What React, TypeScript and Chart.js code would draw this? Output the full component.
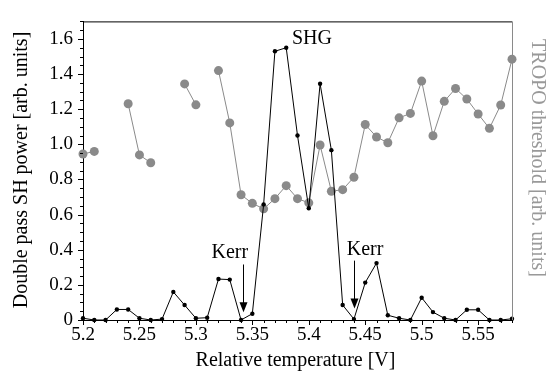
import { useEffect, useRef } from 'react';
import { Chart, registerables } from 'chart.js';

Chart.register(...registerables);

const temperatures = [
  5.20, 5.21, 5.22, 5.23, 5.24, 5.25, 5.26, 5.27, 5.28, 5.29,
  5.30, 5.31, 5.32, 5.33, 5.34, 5.35, 5.36, 5.37, 5.38, 5.39,
  5.40, 5.41, 5.42, 5.43, 5.44, 5.45, 5.46, 5.47, 5.48, 5.49,
  5.50, 5.51, 5.52, 5.53, 5.54, 5.55, 5.56, 5.57, 5.58,
];

const shgPower = [
  0.01, 0.0, 0.0, 0.06, 0.06, 0.01, 0.0, 0.005, 0.16, 0.085,
  0.01, 0.013, 0.233, 0.23, 0.0, 0.036, 0.658, 1.53, 1.55, 1.05,
  0.636, 1.345, 0.967, 0.085, 0.005, 0.213, 0.324, 0.027, 0.01, 0.0,
  0.127, 0.045, 0.01, 0.0, 0.058, 0.058, 0.0, 0.0, 0.007,
];

const tropoThreshold: (number | null)[] = [
  0.945, 0.96, null, null, 1.231, 0.94, 0.895, null, null, 1.344,
  1.225, null, 1.42, 1.122, 0.713, 0.664, 0.633, 0.691, 0.765, 0.691,
  0.667, 0.996, 0.733, 0.742, 0.813, 1.113, 1.042, 1.009, 1.151, 1.176,
  1.36, 1.049, 1.245, 1.318, 1.258, 1.173, 1.091, 1.224, 1.485,
];

const xTickLabels = ['5.2', '5.25', '5.3', '5.35', '5.4', '5.45', '5.5', '5.55'];
const yTickLabels = ['0', '0.2', '0.4', '0.6', '0.8', '1.0', '1.2', '1.4', '1.6'];

const xTitle = 'Relative temperature [V]';
const yTitle = 'Double pass SH power [arb. units]';
const y2Title = 'TROPO threshold [arb. units]';

const textLabels = [
  { text: 'SHG', x: 5.4028, y: 1.571 },
  { text: 'Kerr', x: 5.330, y: 0.354 },
  { text: 'Kerr', x: 5.4498, y: 0.37 },
];
const arrows = [
  { x: 5.3417, from: 0.316, to: 0.044 },
  { x: 5.440, from: 0.338, to: 0.065 },
];

const X_MIN = 5.2;
const X_MAX = 5.58;
const Y_MIN = 0;
const Y_MAX = 1.7;

const FONT = '"Liberation Serif", "DejaVu Serif", serif';
const GREY = '#8a8a8a';

const decorPlugin = {
  id: 'decor',
  afterDraw(chart: any) {
    const { ctx, chartArea: a, scales } = chart;
    const xs = scales.x;
    const ys = scales.y;
    ctx.save();
    ctx.lineWidth = 1;
    // top border
    ctx.strokeStyle = '#000';
    ctx.beginPath();
    ctx.moveTo(a.left, a.top + 0.5);
    ctx.lineTo(a.right, a.top + 0.5);
    ctx.stroke();
    // right border (grey)
    ctx.strokeStyle = GREY;
    ctx.beginPath();
    ctx.moveTo(Math.round(a.right) + 0.5, a.top);
    ctx.lineTo(Math.round(a.right) + 0.5, a.bottom);
    ctx.stroke();

    // x ticks
    ctx.strokeStyle = '#000';
    const majorX = xTickLabels.map(parseFloat);
    ctx.beginPath();
    temperatures.forEach((t) => {
      const px = Math.round(xs.getPixelForValue(t)) + 0.5;
      const isMajor = majorX.some((m) => Math.abs(m - t) < 1e-6);
      ctx.moveTo(px, a.bottom);
      ctx.lineTo(px, a.bottom + (isMajor ? 5 : 3));
    });
    // y ticks
    const majorY = yTickLabels.map(parseFloat);
    for (let i = 0; i <= 34; i++) {
      const v = i * 0.05;
      if (v > Y_MAX + 1e-6) break;
      const isMajor = majorY.some((m) => Math.abs(m - v) < 1e-6);
      const py = Math.round(ys.getPixelForValue(v)) + 0.5;
      ctx.moveTo(a.left, py);
      ctx.lineTo(a.left - (isMajor ? 5 : 3), py);
    }
    ctx.stroke();

    // titles
    ctx.fillStyle = '#000';
    ctx.font = `20px ${FONT}`;
    ctx.textAlign = 'center';
    ctx.textBaseline = 'alphabetic';
    ctx.fillText(xTitle, (a.left + a.right) / 2 - 2, 366);

    ctx.save();
    ctx.translate(27, 170);
    ctx.rotate(-Math.PI / 2);
    ctx.fillText(yTitle, 0, 0);
    ctx.restore();

    ctx.save();
    ctx.fillStyle = '#999999';
    ctx.translate(532, 158);
    ctx.rotate(Math.PI / 2);
    ctx.fillText(y2Title, 0, 0);
    ctx.restore();

    // annotations
    ctx.fillStyle = '#000';
    textLabels.forEach((l) => {
      ctx.fillText(l.text, xs.getPixelForValue(l.x), ys.getPixelForValue(l.y));
    });
    arrows.forEach((ar) => {
      const px = Math.round(xs.getPixelForValue(ar.x)) + 0.5;
      const y0 = ys.getPixelForValue(ar.from);
      const y1 = ys.getPixelForValue(ar.to);
      ctx.beginPath();
      ctx.moveTo(px, y0);
      ctx.lineTo(px, y1 - 8);
      ctx.stroke();
      ctx.beginPath();
      ctx.moveTo(px - 4, y1 - 10);
      ctx.lineTo(px + 4, y1 - 10);
      ctx.lineTo(px, y1);
      ctx.closePath();
      ctx.fill();
    });
    ctx.restore();
  },
};

export default function App() {
  const ref = useRef<HTMLCanvasElement | null>(null);

  useEffect(() => {
    document.body.style.margin = '0';
    const canvas = ref.current;
    if (!canvas) return;
    const chart = new Chart(canvas, {
      type: 'line',
      data: {
        datasets: [
          {
            label: 'SH power',
            data: temperatures.map((t, i) => ({ x: t, y: shgPower[i] })),
            borderColor: '#000',
            backgroundColor: '#000',
            borderWidth: 1,
            pointRadius: 2.2,
            pointBorderWidth: 0,
            pointBackgroundColor: '#000',
            tension: 0,
            clip: false as any,
            order: 0,
          },
          {
            label: 'TROPO threshold',
            data: temperatures.map((t, i) => ({ x: t, y: tropoThreshold[i] })),
            borderColor: GREY,
            backgroundColor: GREY,
            borderWidth: 1,
            pointRadius: 4.5,
            pointBorderWidth: 0,
            pointBackgroundColor: GREY,
            spanGaps: false,
            tension: 0,
            clip: false as any,
            order: 1,
          },
        ],
      },
      options: {
        animation: false,
        responsive: false,
        maintainAspectRatio: false,
        layout: { padding: { top: 8, right: 43, left: 0, bottom: 0 } },
        plugins: {
          legend: { display: false },
          tooltip: { enabled: false },
        },
        events: [],
        scales: {
          x: {
            type: 'linear',
            min: X_MIN,
            max: X_MAX,
            afterBuildTicks: (s: any) => {
              s.ticks = xTickLabels.map((l) => ({ value: parseFloat(l) }));
            },
            afterFit: (s: any) => {
              s.height = 57;
            },
            ticks: {
              autoSkip: false,
              maxRotation: 0,
              padding: 4,
              color: '#000',
              font: { family: FONT, size: 19 },
              callback: (v: any) => {
                const idx = xTickLabels.findIndex((l) => Math.abs(parseFloat(l) - v) < 1e-6);
                return idx >= 0 ? xTickLabels[idx] : '';
              },
            },
            grid: { display: false, drawTicks: false },
            border: { display: true, color: '#000', width: 1 },
          },
          y: {
            type: 'linear',
            min: Y_MIN,
            max: Y_MAX,
            afterBuildTicks: (s: any) => {
              s.ticks = yTickLabels.map((l) => ({ value: parseFloat(l) }));
            },
            afterFit: (s: any) => {
              s.width = 83;
            },
            ticks: {
              autoSkip: false,
              padding: 10,
              color: '#000',
              font: { family: FONT, size: 19 },
              callback: (v: any) => {
                const idx = yTickLabels.findIndex((l) => Math.abs(parseFloat(l) - v) < 1e-6);
                return idx >= 0 ? yTickLabels[idx] : '';
              },
            },
            grid: { display: false, drawTicks: false },
            border: { display: true, color: '#000', width: 1 },
          },
        },
      },
      plugins: [decorPlugin],
    });
    return () => chart.destroy();
  }, []);

  return (
    <div style={{ width: 555, height: 377 }}>
      <canvas ref={ref} width={555} height={377} style={{ display: 'block' }} />
    </div>
  );
}
